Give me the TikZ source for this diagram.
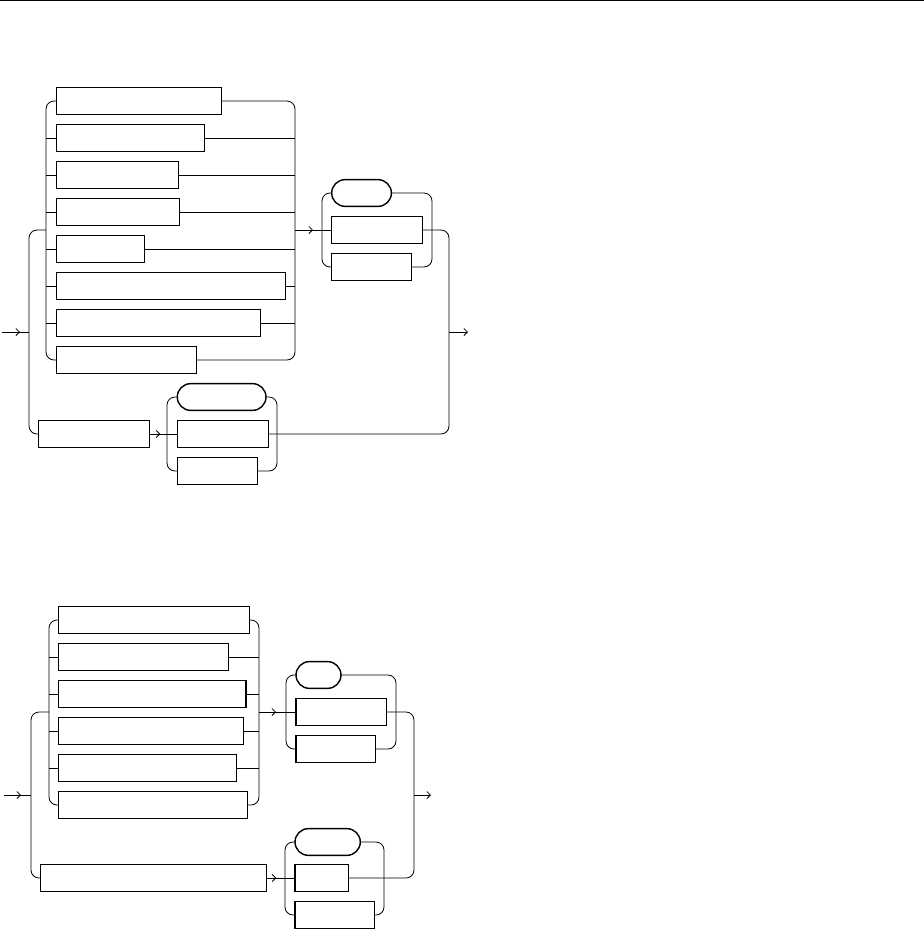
\documentclass[tikz,border=0pt]{standalone}
\usetikzlibrary{arrows.meta,shapes.misc}

\tikzset{
  rail/.style={line width=0.8pt, rounded corners=8pt},
  railarrow/.style={line width=0.8pt, -{Straight Barb[length=3.5pt,width=7pt]}},
  ntbox/.style={draw, line width=1.4pt, rectangle, anchor=west, inner sep=0pt,
    outer sep=0pt, minimum height=26.7pt},
  tbox/.style={draw, line width=1.4pt, rounded rectangle, anchor=west, inner sep=0pt,
    outer sep=0pt, minimum height=26.7pt}
}

\begin{document}
\begin{tikzpicture}[x=1pt,y=-1pt]
  \useasboundingbox (0,0) rectangle (924,930);
  % rule along the top edge
  \draw[line width=1pt] (0,0.8) -- (924,0.8);

  % ---------------- first diagram ----------------
  \coordinate (in1) at (2,332);
  \coordinate (sp1) at (29,332);
  \coordinate (l1) at (46,230);
  \coordinate (r1) at (295,230);
  \coordinate (g1l) at (322,230);
  \coordinate (g1r) at (432,230);
  \coordinate (out1) at (449,332);
  \coordinate (h1l) at (167,434);
  \coordinate (h1r) at (277,434);
  % stacked choices
  \node[ntbox, minimum width=165.2pt] (a1) at (56.5,101) {};
  \node[ntbox, minimum width=147.8pt] (a2) at (56.5,138) {};
  \node[ntbox, minimum width=121.8pt] (a3) at (56.5,175) {};
  \node[ntbox, minimum width=123.2pt] (a4) at (56.5,212) {};
  \node[ntbox, minimum width=87.8pt] (a5) at (56.5,249) {};
  \node[ntbox, minimum width=229.2pt] (a6) at (56.5,286) {};
  \node[ntbox, minimum width=203.8pt] (a7) at (56.5,323) {};
  \node[ntbox, minimum width=139.8pt] (a8) at (56.5,360) {};
  % choice after the stack
  \node[tbox, minimum width=59.7pt] (p1) at (331.7,193) {};
  \node[ntbox, minimum width=90.6pt] (b1) at (331.7,230) {};
  \node[ntbox, minimum width=79.6pt] (c1) at (331.7,267) {};
  % lower branch
  \node[ntbox, minimum width=111pt] (d1) at (38.3,434) {};
  \node[tbox, minimum width=88.7pt] (p2) at (177.3,397) {};
  \node[ntbox, minimum width=91pt] (e1) at (177.3,434) {};
  \node[ntbox, minimum width=80pt] (f1) at (177.3,471) {};

  % entry and outer split
  \draw[rail] (in1) -- (sp1);
  \draw[railarrow] (in1) -- ++(18,0);
  \draw[rail] (l1) -| (sp1) |- (d1.west);
  % left side of the stack
  \draw[rail] (a1.west) -| (l1) |- (a8.west);
  \foreach \n in {a2,a3,a4,a5,a6,a7}
    \draw[rail] (\n.west -| l1) -- (\n.west);
  % right side of the stack
  \draw[rail] (a1.east) -| (r1) |- (a8.east);
  \foreach \n in {a2,a3,a4,a5,a6,a7}
    \draw[rail] (\n.east) -- (\n.east -| r1);
  % into the second choice
  \draw[rail] (r1) -- (b1.west);
  \draw[railarrow] (r1) -- ++(18,0);
  \draw[rail] (p1.west) -| (g1l) |- (c1.west);
  \draw[rail] (p1.east) -| (g1r) |- (c1.east);
  % lower branch choice
  \draw[rail] (d1.east) -- (e1.west);
  \draw[railarrow] (d1.east) -- ++(11,0);
  \draw[rail] (p2.west) -| (h1l) |- (f1.west);
  \draw[rail] (p2.east) -| (h1r) |- (f1.east);
  % join and exit
  \draw[rail] (b1.east) -| (out1) |- (e1.east);
  \draw[railarrow] (out1) -- ++(19,0);

  % ---------------- second diagram ----------------
  \coordinate (in2) at (4,795);
  \coordinate (sp2) at (31,795);
  \coordinate (l2) at (49,712);
  \coordinate (r2) at (259,712);
  \coordinate (g2l) at (286,712);
  \coordinate (g2r) at (396,712);
  \coordinate (out2) at (414,795);
  \coordinate (h2l) at (285,878);
  \coordinate (h2r) at (384,878);
  % stacked choices
  \node[ntbox, minimum width=191pt] (s1) at (58.3,620) {};
  \node[ntbox, minimum width=170pt] (s2) at (58.3,657) {};
  \node[ntbox, minimum width=187.7pt] (s3) at (58.3,694) {};
  \node[ntbox, minimum width=185pt] (s4) at (58.3,731) {};
  \node[ntbox, minimum width=178.4pt] (s5) at (58.3,768) {};
  \node[ntbox, minimum width=189.4pt] (s6) at (58.3,805) {};
  % choice after the stack
  \node[tbox, minimum width=45pt] (q1) at (296,675) {};
  \node[ntbox, minimum width=90.3pt] (t1) at (296,712) {};
  \node[ntbox, minimum width=79.3pt] (u1) at (296,749) {};
  % lower branch
  \node[ntbox, minimum width=226pt] (v1) at (40.3,878) {};
  \node[tbox, minimum width=65.3pt] (q2) at (295,842) {};
  \node[ntbox, minimum width=53.3pt] (w1) at (295,878) {};
  \node[ntbox, minimum width=79.3pt] (z1) at (295,915) {};

  % entry and outer split
  \draw[rail] (in2) -- (sp2);
  \draw[railarrow] (in2) -- ++(17,0);
  \draw[rail] (l2) -| (sp2) |- (v1.west);
  % left side of the stack
  \draw[rail] (s1.west) -| (l2) |- (s6.west);
  \foreach \n in {s2,s3,s4,s5}
    \draw[rail] (\n.west -| l2) -- (\n.west);
  % right side of the stack
  \draw[rail] (s1.east) -| (r2) |- (s6.east);
  \foreach \n in {s2,s3,s4,s5}
    \draw[rail] (\n.east) -- (\n.east -| r2);
  % into the second choice
  \draw[rail] (r2) -- (t1.west);
  \draw[railarrow] (r2) -- ++(17,0);
  \draw[rail] (q1.west) -| (g2l) |- (u1.west);
  \draw[rail] (q1.east) -| (g2r) |- (u1.east);
  % lower branch choice
  \draw[rail] (v1.east) -- (w1.west);
  \draw[railarrow] (v1.east) -- ++(10,0);
  \draw[rail] (q2.west) -| (h2l) |- (z1.west);
  \draw[rail] (q2.east) -| (h2r) |- (z1.east);
  % join and exit
  \draw[rail] (t1.east) -| (out2) |- (w1.east);
  \draw[railarrow] (out2) -- ++(17,0);
\end{tikzpicture}
\end{document}
